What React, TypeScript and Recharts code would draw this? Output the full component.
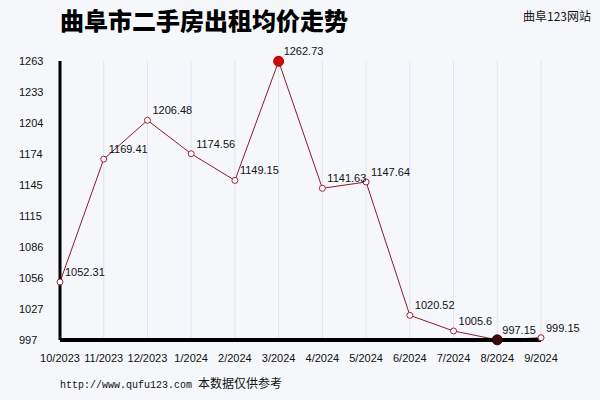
import React from 'react';
import { LineChart, Line, XAxis, YAxis, CartesianGrid, LabelList } from 'recharts';

const months = ['10/2023', '11/2023', '12/2023', '1/2024', '2/2024', '3/2024', '4/2024', '5/2024', '6/2024', '7/2024', '8/2024', '9/2024'];
const prices = [1052.31, 1169.41, 1206.48, 1174.56, 1149.15, 1262.73, 1141.63, 1147.64, 1020.52, 1005.6, 997.15, 999.15];
const yTicks = [997, 1026.56, 1056.11, 1085.67, 1115.22, 1144.78, 1174.33, 1203.89, 1233.44, 1263];

const data = months.map((m, i) => ({ month: m, price: prices[i] }));
const maxVal = Math.max(...prices);
const minVal = Math.min(...prices);

const numFont = '"Liberation Sans", Arial, sans-serif';

const Dot = (props: any) => {
  const { cx, cy, value } = props;
  if (cx == null || cy == null) return null;
  if (value === maxVal) return <circle cx={cx} cy={cy} r={5} fill="#d10a0a" stroke="#b00000" strokeWidth={1} />;
  if (value === minVal) return <circle cx={cx} cy={cy} r={5} fill="#3a0a10" stroke="#2a0508" strokeWidth={1} />;
  return <circle cx={cx} cy={cy} r={3} fill="#ffffff" stroke="#a0203a" strokeWidth={1} />;
};

const YTick = (props: any) => {
  const { y, payload } = props;
  return (
    <text x={19} y={y} dy={4} fontSize={11} fontFamily={numFont} fill="#111" textAnchor="start">
      {Math.round(payload.value)}
    </text>
  );
};

const XTick = (props: any) => {
  const { x, y, payload } = props;
  return (
    <text x={x} y={y + 14} fontSize={11} fontFamily={numFont} fill="#111" textAnchor="middle">
      {payload.value}
    </text>
  );
};

const PointLabel = (props: any) => {
  const { x, y, value } = props;
  return (
    <text x={x + 5} y={y - 6} fontSize={11} fontFamily={numFont} fill="#111" textAnchor="start">
      {value}
    </text>
  );
};

export default function App() {
  return (
    <div style={{ position: 'absolute', left: 0, top: 0, width: 600, height: 400, background: '#f5f7fb', overflow: 'hidden' }}>
      <div style={{ position: 'absolute', left: 60, top: 4, fontSize: 24, fontWeight: 900, fontFamily: '"Noto Sans CJK SC", sans-serif', color: '#000', lineHeight: '32px', letterSpacing: 0 }}>
        曲阜市二手房出租均价走势
      </div>
      <div style={{ position: 'absolute', left: 523, top: 8, fontSize: 12, fontFamily: '"Noto Sans CJK SC", sans-serif', color: '#111', lineHeight: '16px' }}>
        曲阜123网站
      </div>
      <LineChart width={600} height={400} data={data} margin={{ top: 61, right: 59, bottom: 30, left: 0 }}>
        <CartesianGrid vertical={true} horizontal={false} stroke="#e2e5ec" strokeWidth={1} />
        <XAxis
          dataKey="month"
          axisLine={{ stroke: '#000', strokeWidth: 4 }}
          tickLine={false}
          tick={<XTick />}
          interval={0}
          height={30}
          padding={{ left: 0, right: 0 }}
        />
        <YAxis
          type="number"
          domain={[997, 1263]}
          ticks={yTicks}
          axisLine={{ stroke: '#000', strokeWidth: 3 }}
          tickLine={false}
          tick={<YTick />}
          width={60}
        />
        <Line
          type="linear"
          dataKey="price"
          stroke="#8a1a30"
          strokeWidth={1}
          dot={<Dot />}
          activeDot={false}
          isAnimationActive={false}
        >
          <LabelList dataKey="price" content={<PointLabel />} />
        </Line>
      </LineChart>
      <div style={{ position: 'absolute', left: 60, top: 375, fontSize: 10, fontFamily: '"Liberation Mono", "Noto Sans CJK SC", monospace', color: '#111', lineHeight: '16px', whiteSpace: 'nowrap' }}>
        http://www.qufu123.com <span style={{ fontFamily: '"Noto Sans CJK SC", sans-serif', fontSize: 12 }}>本数据仅供参考</span>
      </div>
    </div>
  );
}
